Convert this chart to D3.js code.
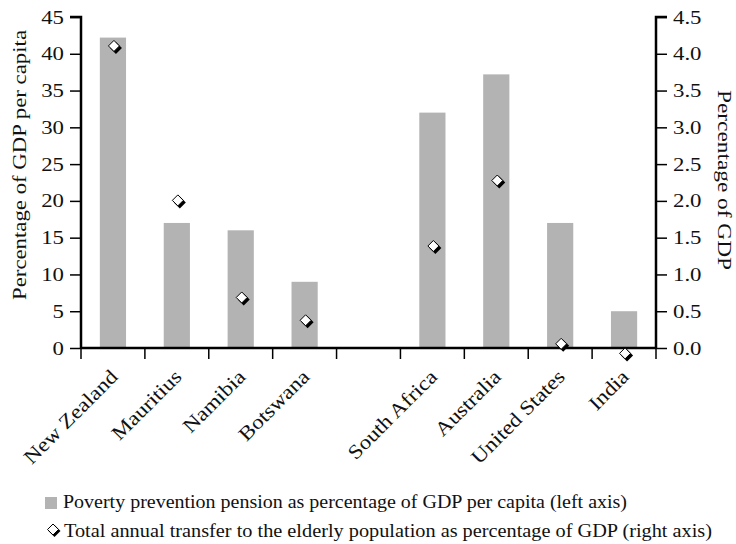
<!DOCTYPE html>
<html><head><meta charset="utf-8">
<script src="https://cdn.jsdelivr.net/npm/d3@7"></script>
<style>body{margin:0;background:#fff}svg{display:block}text{font-family:"Liberation Serif","Times New Roman",serif;fill:#111}</style>
</head><body><svg id="c" width="736" height="544"></svg>
<script>
const categories = ["New Zealand","Mauritius","Namibia","Botswana","","South Africa","Australia","United States","India"];
const pensionPct = [42.2,17,16,9,null,32,37.2,17,5];
const transferPct = [4.1,2.0,0.68,0.37,null,1.38,2.27,0.05,-0.08];
const leftTicks = [0,5,10,15,20,25,30,35,40,45];
const rightTicks = [0,0.5,1,1.5,2,2.5,3,3.5,4,4.5];
const legendLabels = ["Poverty prevention pension as percentage of GDP per capita (left axis)","Total annual transfer to the elderly population as percentage of GDP (right axis)"];

const svg = d3.select("#c");
const L=81, R=656, T=17, B=348;
const x = d3.scaleBand().domain(categories.map((d,i)=>i)).range([L,R]).paddingInner(0).paddingOuter(0);
const yL = d3.scaleLinear().domain([0,45]).range([B,T]);
const yR = d3.scaleLinear().domain([0,4.5]).range([B,T]);
const barW = x.bandwidth()*0.41;

function stretch(sel,k){ sel.each(function(){ const w=this.getComputedTextLength(); d3.select(this).attr("textLength",w*k).attr("lengthAdjust","spacingAndGlyphs"); }); }

// bars
svg.append("g").selectAll("rect").data(pensionPct.map((v,i)=>({v,i})).filter(d=>d.v!=null)).join("rect")
  .attr("x",d=>x(d.i)+x.bandwidth()/2-barW/2).attr("width",barW)
  .attr("y",d=>yL(d.v)).attr("height",d=>yL(0)-yL(d.v)).attr("fill","#b3b3b3");

// axes
const gl = svg.append("g").attr("transform",`translate(${L},0)`)
  .call(d3.axisLeft(yL).tickValues(leftTicks).tickSize(11).tickPadding(6).tickFormat(d3.format("d")));
const gr = svg.append("g").attr("transform",`translate(${R},0)`)
  .call(d3.axisRight(yR).tickValues(rightTicks).tickSize(11).tickPadding(6).tickFormat(d3.format(".1f")));
const gb = svg.append("g").attr("transform",`translate(0,${B})`)
  .call(d3.axisBottom(x).tickValues([]).tickSizeOuter(0));
const bounds = d3.range(categories.length+1).map(i=>L+i*x.bandwidth());
gb.selectAll("line.bt").data(bounds).join("line").attr("class","bt")
  .attr("x1",d=>d).attr("x2",d=>d).attr("y1",0).attr("y2",11).attr("stroke","#000").attr("stroke-width",1.5);
[gl,gr,gb].forEach(g=>{
  g.select(".domain").attr("stroke","#000").attr("stroke-width",2.5);
  g.selectAll(".tick line").attr("stroke","#000").attr("stroke-width",1.5);
  g.selectAll(".tick text").attr("font-size",19).attr("fill","#111");
});
gl.select(".domain").attr("d",`M-11,${T}H0V${B}`);
gr.select(".domain").attr("d",`M11,${T}H0V${B}`);
gb.select(".domain").attr("d",`M${L},0H${R}`);
stretch(gl.selectAll(".tick text"),1.2);
stretch(gr.selectAll(".tick text"),1.2);

// category labels
const cl = svg.append("g").selectAll("text").data(categories.map((c,i)=>({c,i})).filter(d=>d.c)).join("text")
  .attr("transform",d=>`translate(${x(d.i)+x.bandwidth()/2+6},${B+30}) rotate(-45)`)
  .attr("text-anchor","end").attr("font-size",20).text(d=>d.c);
stretch(cl,1.15);

// diamonds
const dia = s=>`M0,${-s}L${s},0L0,${s}L${-s},0Z`;
const pts = transferPct.map((v,i)=>({v,i})).filter(d=>d.v!=null);
const gd = svg.append("g");
gd.selectAll("path.sh").data(pts).join("path").attr("class","sh")
  .attr("transform",d=>`translate(${x(d.i)+x.bandwidth()/2+3},${yR(d.v)+1.5})`).attr("d",dia(6)).attr("fill","#000");
gd.selectAll("path.fg").data(pts).join("path").attr("class","fg")
  .attr("transform",d=>`translate(${x(d.i)+x.bandwidth()/2+1},${yR(d.v)-0.5})`).attr("d",dia(5.5)).attr("fill","#fff").attr("stroke","#000").attr("stroke-width",1);

// axis titles
svg.append("text").attr("transform",`translate(26,165) rotate(-90)`).attr("text-anchor","middle").attr("font-size",19)
  .attr("textLength",270).attr("lengthAdjust","spacingAndGlyphs").text("Percentage of GDP per capita");
svg.append("text").attr("transform",`translate(718,180) rotate(90)`).attr("text-anchor","middle").attr("font-size",19)
  .attr("textLength",180).attr("lengthAdjust","spacingAndGlyphs").text("Percentage of GDP");

// legend
const lg = svg.append("g");
lg.append("rect").attr("x",45).attr("y",497).attr("width",12).attr("height",12).attr("fill","#b3b3b3");
lg.append("text").attr("x",63).attr("y",508).attr("font-size",19).attr("textLength",564).attr("lengthAdjust","spacingAndGlyphs").text(legendLabels[0]);
lg.append("path").attr("transform","translate(54.5,531)").attr("d",dia(6)).attr("fill","#000");
lg.append("path").attr("transform","translate(53,529.5)").attr("d",dia(5.5)).attr("fill","#fff").attr("stroke","#000");
lg.append("text").attr("x",64).attr("y",537).attr("font-size",19).attr("textLength",648).attr("lengthAdjust","spacingAndGlyphs").text(legendLabels[1]);
</script></body></html>
